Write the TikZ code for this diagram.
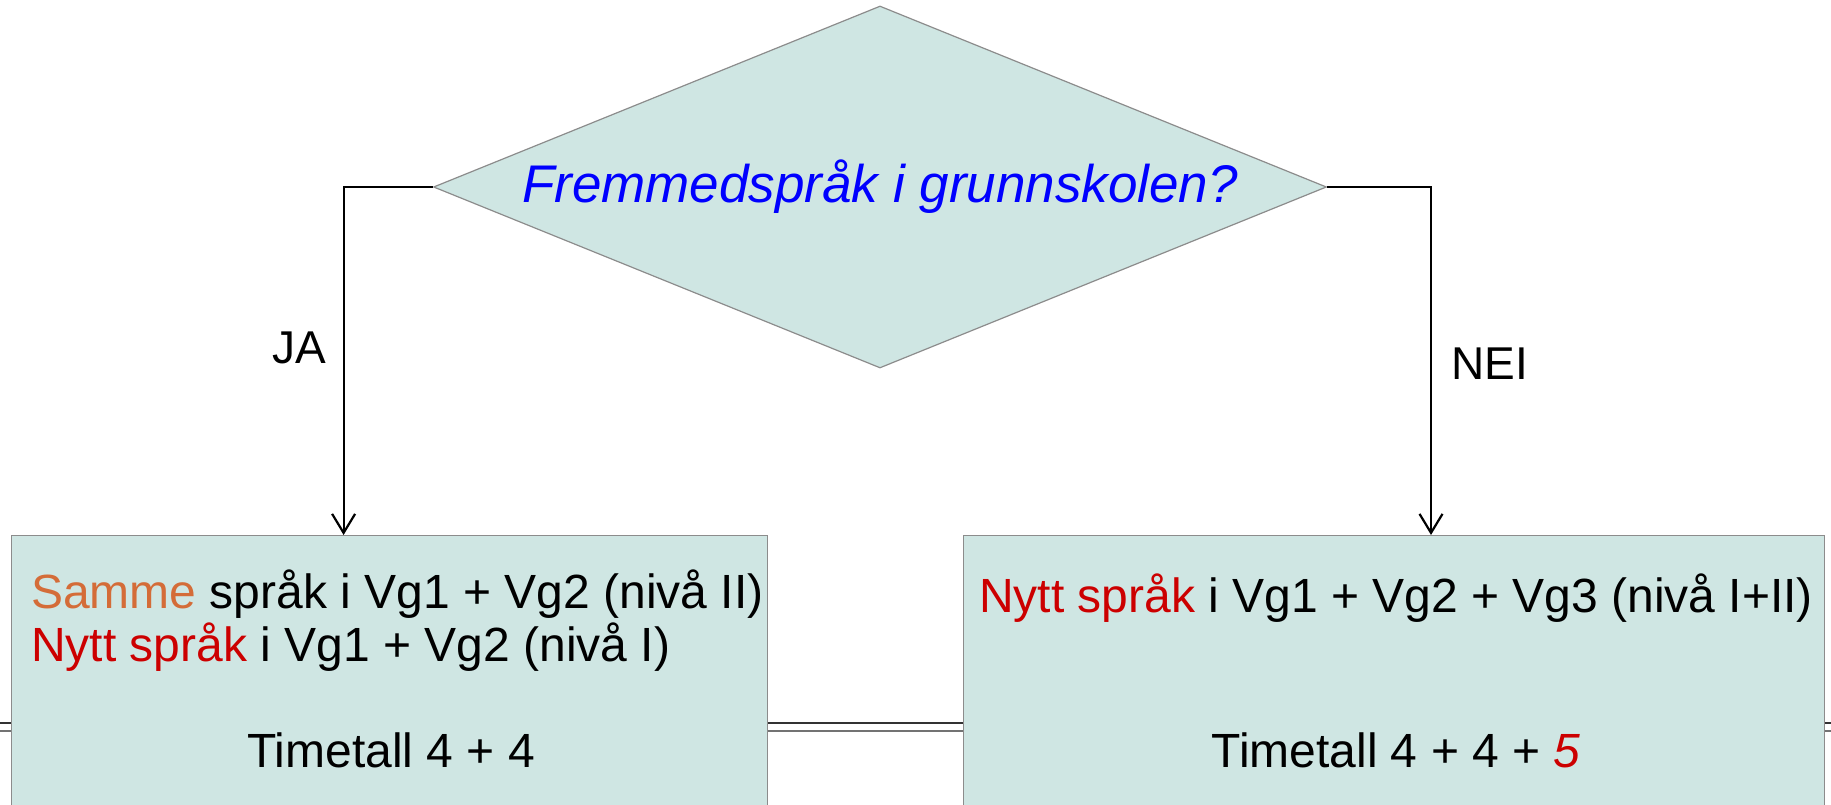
\documentclass[tikz,border=0pt]{standalone}
\usepackage{fontspec}
\setmainfont{Liberation Sans}
\usetikzlibrary{shapes.geometric,arrows.meta}
\definecolor{boxfill}{RGB}{207,230,227}
\definecolor{boxline}{RGB}{140,140,140}
\definecolor{orangetxt}{RGB}{212,108,56}
\definecolor{redtxt}{RGB}{204,0,0}
\tikzset{
  x=1pt, y=-1pt,
  panel/.style={draw=boxline, line width=1.2pt, fill=boxfill, rectangle, anchor=north west, inner sep=0pt, minimum width=756pt, minimum height=320pt},
  decision/.style={draw=boxline, line width=1.2pt, fill=boxfill, diamond, aspect=2.47, inner sep=0pt, minimum width=893pt, minimum height=362pt, font=\fontsize{53}{60}\selectfont\itshape, text=blue},
  boxtext/.style={inner sep=0pt, font=\fontsize{48}{54}\selectfont},
  lbl/.style={inner sep=0pt, font=\fontsize{46}{52}\selectfont},
  conn/.style={draw=black, line width=2.2pt, -{Straight Barb[length=19pt,width=23pt,line width=2.2pt]}},
  rule1/.style={draw=black!80, line width=1.6pt},
  rule2/.style={draw=black!55, line width=1.8pt}
}
\begin{document}
\begin{tikzpicture}
\path[use as bounding box, clip] (0,0) rectangle (1831,805);
\fill[white] (0,0) rectangle (1831,805);
% background double rule
\coordinate (r1a) at (0,723);
\coordinate (r1b) at (1831,723);
\coordinate (r2a) at (0,731);
\coordinate (r2b) at (1831,731);
\draw[rule1] (r1a) -- (r1b);
\draw[rule2] (r2a) -- (r2b);
% decision
\node[decision] (q) at (880,187) {Fremmedspråk i grunnskolen?};
% boxes
\node[panel] (lb) at (11,535) {};
\node[panel, minimum width=861pt] (rb) at (963,535) {};
% left box text
\node[boxtext, anchor=base west] (l1) at (31,608) {\textcolor{orangetxt}{Samme} språk i Vg1 + Vg2 (nivå II)};
\node[boxtext, anchor=base west] (l2) at (31,661) {\textcolor{redtxt}{Nytt språk} i Vg1 + Vg2 (nivå I)};
\node[boxtext, anchor=base] (l3) at (391,767) {Timetall 4 + 4};
% right box text
\node[boxtext, anchor=base west] (r1) at (979,612) {\textcolor{redtxt}{Nytt språk} i Vg1 + Vg2 + Vg3 (nivå I+II)};
\node[boxtext, anchor=base] (r3) at (1396,767) {Timetall 4 + 4 + \textcolor{redtxt}{\itshape 5}};
% connectors
\draw[conn] (q.west) -| ([xshift=-46pt]lb.north);
\draw[conn] (q.east) -| (rb.north -| 1431,0);
% labels
\node[lbl] (ja) at (299,348) {JA};
\node[lbl] (nei) at (1490,364) {NEI};
\end{tikzpicture}
\end{document}
